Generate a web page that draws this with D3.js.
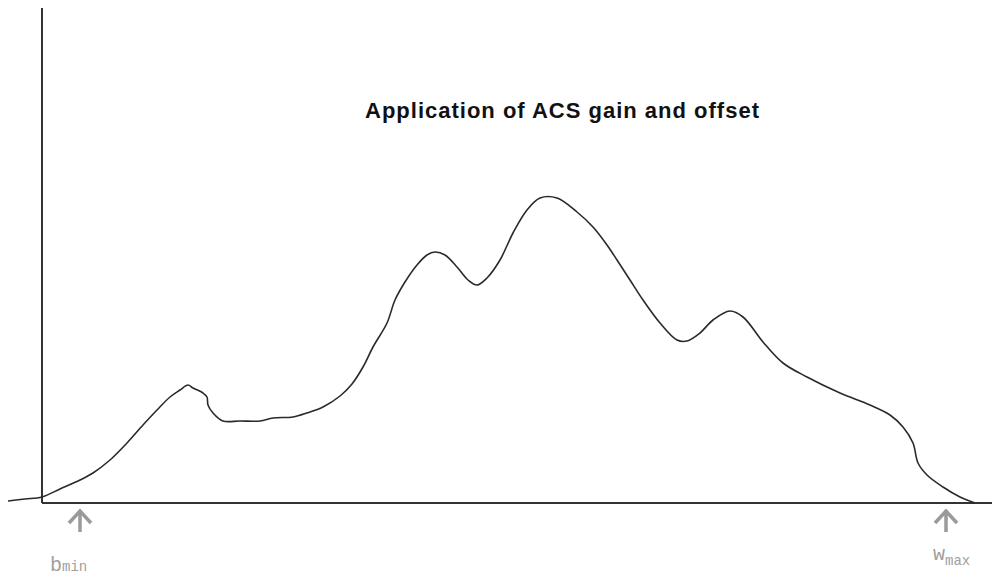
<!DOCTYPE html>
<html><head><meta charset="utf-8">
<script src="https://cdn.jsdelivr.net/npm/d3@7"></script>
<style>html,body{margin:0;padding:0;background:#fff;}svg{display:block;}</style>
</head><body>
<script>
// Histogram outline: x = gray-level position, y = count
const histX = [-34,-17,0,18,38,51,68,85,101,115,128,138,146,151,161,165,166,171,181,198,218,231,251,265,281,298,310,321,331,345,353,363,375,385,393,403,415,426,435,445,458,471,485,498,515,535,551,565,575,588,601,618,635,645,658,671,688,701,721,741,765,798,828,848,861,871,876,885,901,918,933];
const histY = [2,4,6,14,23,30,43,60,78,93,106,113,118,115,110,106,98,90,82,82,82,85,86,90,96,107,119,136,156,180,203,221,238,248,251,248,236,223,218,225,243,270,293,305,305,291,276,258,243,223,203,180,163,162,170,183,192,186,161,140,126,110,98,88,76,60,40,28,16,6,0];
const labelB = ["b","min"], labelW = ["w","max"];
const markerPos = [38, 904];
const titleText = "Application of ACS gain and offset";

const W = 992, H = 577;
const svg = d3.select("body").append("svg").attr("width", W).attr("height", H);
const x = d3.scaleLinear().domain([0, 950]).range([42, 992]);
const y = d3.scaleLinear().domain([0, 500]).range([503, 3]);

// axes
svg.append("line").attr("x1", x(0)).attr("x2", x(0)).attr("y1", y(495)).attr("y2", y(0))
  .attr("stroke", "#333").attr("stroke-width", 2);
svg.append("line").attr("x1", x(0)).attr("x2", x(950)).attr("y1", y(0)).attr("y2", y(0))
  .attr("stroke", "#333").attr("stroke-width", 2);

const pts = histX.map((d, i) => [d, histY[i]]);
svg.append("path").datum(pts)
  .attr("d", d3.line().x(d => x(d[0])).y(d => y(d[1])).curve(d3.curveCatmullRom.alpha(0.5)))
  .attr("fill", "none").attr("stroke", "#2a2a2a").attr("stroke-width", 1.6);

// title
svg.append("text").attr("x", 365).attr("y", 118).text(titleText)
  .attr("font-family", "Liberation Sans, Arial, sans-serif").attr("font-weight", "bold")
  .attr("font-size", 22).attr("letter-spacing", 1).attr("fill", "#111");

// arrows
function arrow(cx) {
  const g = svg.append("g").attr("stroke", "#9a9a9a").attr("stroke-width", 3.5).attr("fill", "none");
  g.append("line").attr("x1", cx).attr("x2", cx).attr("y1", 510).attr("y2", 532);
  g.append("path").attr("d", `M${cx-11},${523} L${cx},${511} L${cx+11},${523}`);
}
markerPos.forEach(p => arrow(x(p)));

function label(px, py, main, sub, subDy) {
  const t = svg.append("text").attr("x", px).attr("y", py)
    .attr("font-family", "Liberation Mono, Courier New, monospace").attr("fill", "#a0a0a0");
  t.append("tspan").attr("font-size", 20).text(main);
  t.append("tspan").attr("font-size", 14).attr("dy", subDy).text(sub);
}
label(50, 571, labelB[0], labelB[1], 0);
label(933, 560, labelW[0], labelW[1], 5);
</script>
</body></html>
